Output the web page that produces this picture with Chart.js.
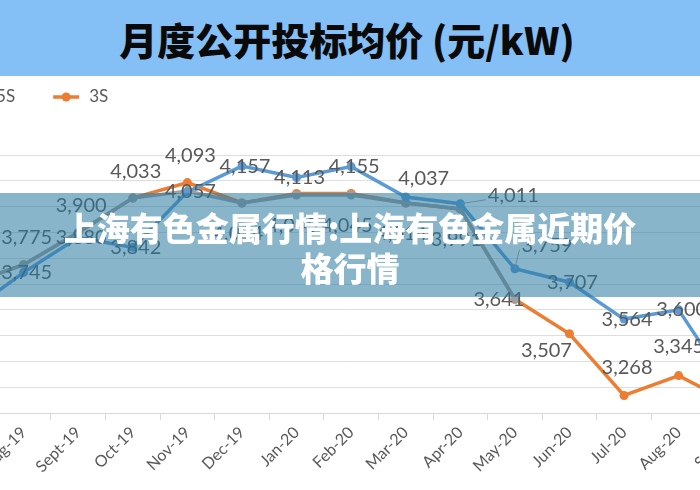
<!DOCTYPE html>
<html>
<head>
<meta charset="utf-8">
<script src="https://cdn.jsdelivr.net/npm/chart.js@4/dist/chart.umd.min.js"></script>
<style>
    body { margin: 0; width: 700px; height: 490px; overflow: hidden; background: #fff; position: relative; }
    #head {
        position: absolute; left: 0; top: 0; width: 700px; height: 76px;
        background: #84bff6; color: #0a0a0a; text-align: center;
        font: 900 38px/78px 'Noto Sans CJK SC', sans-serif;
        padding-right: 6px; box-sizing: border-box;
    }
    #wrap { position: absolute; left: -65px; top: 75px; width: 830px; height: 415px; }
    #band {
        position: absolute; left: 0; top: 193px; width: 700px; height: 104px;
        box-sizing: border-box; padding-top: 14px;
        background: rgba(40, 120, 160, 0.55); color: #fff; text-align: center;
        font: 900 33px/40px 'Noto Sans CJK SC', sans-serif;
    }
</style>
</head>
<body>
<div id="head">月度公开投标均价 (元/kW)</div>
<div id="wrap"><canvas id="priceChart" width="830" height="415"></canvas></div>
<div id="band">上海有色金属行情:上海有色金属近期价<br>格行情</div>

<script>
// canvas sits partly outside the page, like the cropped original
const CANVAS_LEFT = -65;
const CANVAS_TOP = 75;

const months = ['Jul-19', 'Aug-19', 'Sept-19', 'Oct-19', 'Nov-19', 'Dec-19', 'Jan-20', 'Feb-20',
    'Mar-20', 'Apr-20', 'May-20', 'Jun-20', 'Jul-20', 'Aug-20', 'Sep-20'];

const price4S = [3590, 3745, 3880, 3842, 4057, 4157, 4113, 4155, 4037, 4011, 3759, 3707, 3564, 3600, 3280];
const price5S = [3700, 3775, 3900, 4033, 4060, 4014, 4045, 4045, 4014, 3991, 3641, null, null, null, null];
const price3S = [3700, 3775, 3900, 4033, 4093, 4014, 4051, 4051, 4014, 3991, 3641, 3507, 3268, 3345, 3235];

// where each value label goes relative to its point (null = no label)
const C = [3, 0], A = [3, -27], B = [-4, 31];
const labels4S = [null, C, C, C, C, C, C, C, [18, -19], [53, -8], [32, -23], C, C, C, null];
const labels5S = [null, A, A, A, null, B, B, B, B, B, null, null, null, null, null];
const labels3S = [null, null, null, null, A, null, null, null, null, null, [-16, 0], [-23, 17], [3, -28], [0, -29], null];

const valueLabels = {
    id: 'valueLabels',
    afterDatasetsDraw(chart) {
        const ctx = chart.ctx;
        ctx.save();
        ctx.font = "20px Lato";
        ctx.fillStyle = '#595959';
        ctx.textAlign = 'center';
        ctx.textBaseline = 'middle';
        chart.data.datasets.forEach((ds, di) => {
            const meta = chart.getDatasetMeta(di);
            ds.valueLabels.forEach((off, i) => {
                if (!off || ds.data[i] == null) return;
                const pt = meta.data[i];
                const text = ds.data[i].toLocaleString('en-US');
                const x = pt.x + off[0], y = pt.y + off[1];
                if (Math.hypot(off[0], off[1]) > 35) {
                    const w = ctx.measureText(text).width;
                    ctx.strokeStyle = '#a6a6a6';
                    ctx.lineWidth = 1;
                    ctx.beginPath();
                    ctx.moveTo(pt.x, pt.y);
                    ctx.lineTo(x - w / 2 - 2, y + 4);
                    ctx.stroke();
                }
                ctx.fillText(text, x, y);
            });
        });
        ctx.restore();
    }
};

const lineLegend = {
    id: 'lineLegend',
    afterDraw(chart) {
        const ctx = chart.ctx;
        ctx.save();
        ctx.font = "17px Lato";
        ctx.textBaseline = 'middle';
        let x = -133 - CANVAS_LEFT;
        const y = 97 - CANVAS_TOP;
        chart.data.datasets.forEach(ds => {
            ctx.strokeStyle = ds.borderColor;
            ctx.fillStyle = ds.borderColor;
            ctx.lineWidth = 3.5;
            ctx.beginPath();
            ctx.moveTo(x, y);
            ctx.lineTo(x + 26, y);
            ctx.stroke();
            ctx.beginPath();
            ctx.arc(x + 13, y, 4.5, 0, Math.PI * 2);
            ctx.fill();
            ctx.fillStyle = '#595959';
            ctx.fillText(ds.label, x + 36, y);
            x += 36 + ctx.measureText(ds.label).width + 38;
        });
        ctx.restore();
    }
};

function series(label, data, color, labelsAt) {
    return {
        label: label,
        data: data,
        borderColor: color,
        backgroundColor: color,
        borderWidth: 3.5,
        pointRadius: 4.5,
        pointBorderWidth: 0,
        tension: 0,
        spanGaps: false,
        valueLabels: labelsAt
    };
}

new Chart(document.getElementById('priceChart'), {
    type: 'line',
    data: {
        labels: months,
        datasets: [
            series('4S', price4S, '#5b9bd5', labels4S),
            series('5S', price5S, '#a0a0a0', labels5S),
            series('3S', price3S, '#ed7d31', labels3S)
        ]
    },
    options: {
        responsive: false,
        animation: false,
        layout: { padding: { left: 0, right: 2, top: 80, bottom: 0 } },
        plugins: {
            legend: { display: false },
            tooltip: { enabled: false }
        },
        scales: {
            x: {
                offset: true,
                grid: { offset: true, drawOnChartArea: false, tickLength: 7, color: '#d9d9d9' },
                border: { color: '#d9d9d9' },
                ticks: {
                    minRotation: 45, maxRotation: 45, padding: 3,
                    color: '#595959', font: { family: 'Lato', size: 16 }
                },
                afterFit(scale) { scale.height = 77; }
            },
            y: {
                min: 3200,
                max: 4200,
                ticks: { display: false, stepSize: 100 },
                grid: { color: '#dedede', drawTicks: false },
                border: { display: false },
                afterFit(scale) { scale.width = 0; }
            }
        }
    },
    plugins: [valueLabels, lineLegend]
});
</script>
</body>
</html>
